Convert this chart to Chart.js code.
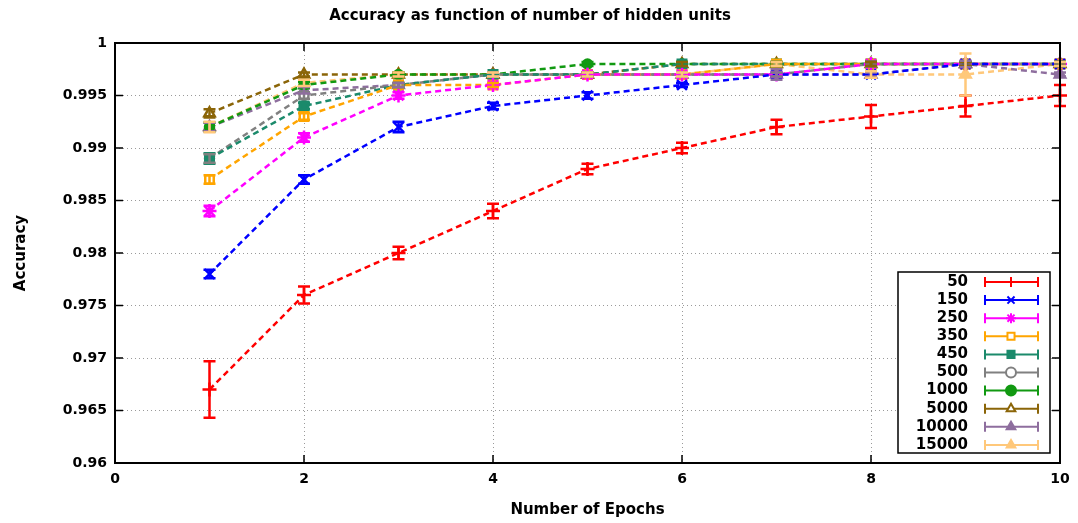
<!DOCTYPE html>
<html>
<head>
<meta charset="utf-8">
<script src="https://cdn.jsdelivr.net/npm/chart.js@4/dist/chart.umd.min.js"></script>
<style>
  html, body { margin: 0; padding: 0; background: #fff; }
  #wrap { width: 1078px; height: 523px; }
</style>
</head>
<body>
<div id="wrap"><canvas id="graphAcc"></canvas></div>
<script>
// donnees

const epochs = [1, 2, 3, 4, 5, 6, 7, 8, 9, 10];
const yTicks = [0.96, 0.965, 0.97, 0.975, 0.98, 0.985, 0.99, 0.995, 1];
const xTicks = [0, 2, 4, 6, 8, 10];

const labels = ['50', '150', '250', '350', '450', '500', '1000', '5000', '10000', '15000'];

const acc50    = [0.967, 0.976, 0.980, 0.984, 0.988, 0.990, 0.992, 0.993, 0.994, 0.995];
const acc150   = [0.978, 0.987, 0.992, 0.994, 0.995, 0.996, 0.997, 0.997, 0.998, 0.998];
const acc250   = [0.984, 0.991, 0.995, 0.996, 0.997, 0.997, 0.997, 0.998, 0.998, 0.998];
const acc350   = [0.987, 0.993, 0.996, 0.996, 0.997, 0.997, 0.998, 0.998, 0.998, 0.998];
const acc450   = [0.989, 0.994, 0.996, 0.997, 0.997, 0.998, 0.998, 0.998, 0.998, 0.998];
const acc500   = [0.989, 0.995, 0.996, 0.997, 0.997, 0.997, 0.997, 0.998, 0.998, 0.998];
const acc1000  = [0.992, 0.996, 0.997, 0.997, 0.998, 0.998, 0.998, 0.998, 0.998, 0.998];
const acc5000  = [0.9933, 0.997, 0.997, 0.997, 0.997, 0.998, 0.998, 0.998, 0.998, 0.998];
const acc10000 = [0.992, 0.9955, 0.996, 0.997, 0.997, 0.997, 0.997, 0.997, 0.998, 0.997];
const acc15000 = [0.992, 0.9962, 0.997, 0.997, 0.997, 0.997, 0.998, 0.997, 0.997, 0.998];

const err50    = [0.0027, 0.0008, 0.0006, 0.0007, 0.0005, 0.0005, 0.0007, 0.0011, 0.001, 0.001];
const err150   = [0.0004, 0.0004, 0.0005, 0.0003, 0.0003, 0.0002, 0.0002, 0.0002, 0.0002, 0.0002];
const err250   = [0.0005, 0.0004, 0.0003, 0.0002, 0.0002, 0.0002, 0.0002, 0.0002, 0.0002, 0.0002];
const err350   = [0.0004, 0.0003, 0.0002, 0.0002, 0.0002, 0.0002, 0.0002, 0.0002, 0.0002, 0.0002];
const err450   = [0.0005, 0.0003, 0.0002, 0.0002, 0.0002, 0.0002, 0.0002, 0.0002, 0.0002, 0.0002];
const err500   = [0.0004, 0.0003, 0.0002, 0.0002, 0.0002, 0.0002, 0.0002, 0.0002, 0.0002, 0.0002];
const err1000  = [0.0004, 0.0003, 0.0002, 0.0002, 0.0002, 0.0002, 0.0002, 0.0002, 0.0002, 0.0002];
const err5000  = [0.0004, 0.0002, 0.0002, 0.0002, 0.0002, 0.0002, 0.0002, 0.0002, 0.0002, 0.0002];
const err10000 = [0.0004, 0.0003, 0.0002, 0.0002, 0.0002, 0.0002, 0.0005, 0.0002, 0.0003, 0.0002];
const err15000 = [0.0005, 0.0003, 0.0002, 0.0002, 0.0002, 0.0002, 0.0002, 0.0003, 0.002, 0.0002];

const couleurs = ['#ff0000', '#0000ff', '#ff00ff', '#ffa500', '#1b8a6b', '#808080',
                  '#119911', '#8b6508', '#8e6e9e', '#ffc87a'];
const styles = ['cross', 'crossRot', 'star', 'rect', 'rect', 'circle', 'circle', 'triangle', 'triangle', 'triangle'];
const remplis = [true, true, true, false, true, false, true, false, true, true];

const valeurs = [acc50, acc150, acc250, acc350, acc450, acc500, acc1000, acc5000, acc10000, acc15000];
const erreurs = [err50, err150, err250, err350, err450, err500, err1000, err5000, err10000, err15000];

const police = '"DejaVu Sans", Verdana, sans-serif';

function tailleMarque(st) {
  if (st === 'circle') return 4.5;
  if (st === 'cross' || st === 'crossRot' || st === 'star') return 7;
  return 6;
}

const datasets = labels.map((lab, k) => ({
  label: lab,
  data: epochs.map((e, i) => ({ x: e, y: valeurs[k][i] })),
  errs: erreurs[k],
  borderColor: couleurs[k],
  backgroundColor: remplis[k] ? couleurs[k] : '#ffffff',
  pointBorderColor: couleurs[k],
  borderWidth: 2.5,
  borderDash: [6, 4],
  pointStyle: styles[k],
  pointRadius: tailleMarque(styles[k]),
  pointBorderWidth: 2.5,
  tension: 0,
  clip: false
}));

// barres d'erreur + ticks interieurs + legende

const pluginGnu = {
  id: 'gnu',
  afterDatasetsDraw(chart) {
    const c = chart.ctx;
    const xs = chart.scales.x, ys = chart.scales.y;
    chart.data.datasets.forEach((ds) => {
      c.save();
      c.strokeStyle = ds.borderColor;
      c.lineWidth = 2.5;
      ds.data.forEach((p, i) => {
        const e = ds.errs[i];
        const px = xs.getPixelForValue(p.x);
        const y1 = ys.getPixelForValue(p.y + e);
        const y2 = ys.getPixelForValue(p.y - e);
        c.beginPath();
        c.moveTo(px, y1); c.lineTo(px, y2);
        c.moveTo(px - 6, y1); c.lineTo(px + 6, y1);
        c.moveTo(px - 6, y2); c.lineTo(px + 6, y2);
        c.stroke();
      });
      c.restore();
    });
  },
  afterDraw(chart) {
    const c = chart.ctx;
    const a = chart.chartArea;
    const xs = chart.scales.x, ys = chart.scales.y;
    c.save();
    c.strokeStyle = '#000';
    c.lineWidth = 1.5;
    c.beginPath();
    xTicks.forEach(t => {
      const px = xs.getPixelForValue(t);
      c.moveTo(px, a.bottom); c.lineTo(px, a.bottom - 8);
      c.moveTo(px, a.top); c.lineTo(px, a.top + 8);
    });
    yTicks.forEach(t => {
      const py = ys.getPixelForValue(t);
      c.moveTo(a.left, py); c.lineTo(a.left + 8, py);
      c.moveTo(a.right, py); c.lineTo(a.right - 8, py);
    });
    c.stroke();
    c.lineWidth = 2;
    c.strokeRect(a.left, a.top, a.right - a.left, a.bottom - a.top);

    // legende
    const lx = 898, ly = 272, lw = 152, lh = 181;
    c.fillStyle = '#fff';
    c.fillRect(lx, ly, lw, lh);
    c.lineWidth = 1.5;
    c.strokeStyle = '#000';
    c.strokeRect(lx, ly, lw, lh);
    c.font = 'bold 15px ' + police;
    c.textAlign = 'right';
    c.textBaseline = 'middle';
    chart.data.datasets.forEach((ds, k) => {
      const yy = ly + 10 + k * 18.1;
      c.fillStyle = '#000';
      c.fillText(ds.label, 968, yy);
      c.strokeStyle = ds.borderColor;
      c.lineWidth = 2;
      c.beginPath();
      c.moveTo(985, yy); c.lineTo(1038, yy);
      c.moveTo(985, yy - 5); c.lineTo(985, yy + 5);
      c.moveTo(1038, yy - 5); c.lineTo(1038, yy + 5);
      c.stroke();
      c.fillStyle = ds.backgroundColor;
      c.strokeStyle = ds.borderColor;
      Chart.helpers.drawPoint(c, {
        pointStyle: ds.pointStyle, radius: 5, borderWidth: 2
      }, 1011, yy);
    });
    c.restore();
  }
};

const ctx = document.getElementById('graphAcc');

new Chart(ctx, {
  type: 'line',
  data: { datasets },
  options: {
    responsive: true,
    maintainAspectRatio: false,
    animation: false,
    layout: { padding: { right: 18, left: 0, top: 0, bottom: 0 } },
    plugins: {
      legend: { display: false },
      tooltip: { enabled: false },
      title: {
        display: true,
        text: 'Accuracy as function of number of hidden units',
        color: '#000',
        font: { family: police, size: 15, weight: 'bold' },
        padding: { top: 7, bottom: 18 }
      }
    },
    scales: {
      x: {
        type: 'linear',
        min: 0, max: 10,
        afterFit: (s) => { s.height = 60; },
        afterBuildTicks: (s) => { s.ticks = xTicks.map(v => ({ value: v })); },
        ticks: {
          color: '#000',
          font: { family: police, size: 14, weight: 'bold' },
          padding: 8,
          maxRotation: 0
        },
        grid: {
          color: '#9a9a9a',
          lineWidth: 1,
          drawTicks: false
        },
        border: { display: false, dash: [1, 3] },
        title: {
          display: true,
          text: 'Number of Epochs',
          color: '#000',
          font: { family: police, size: 15, weight: 'bold' },
          padding: { top: 6 }
        }
      },
      y: {
        min: 0.96, max: 1,
        afterFit: (s) => { s.width = 115; },
        afterBuildTicks: (s) => { s.ticks = yTicks.map(v => ({ value: v })); },
        ticks: {
          color: '#000',
          font: { family: police, size: 14, weight: 'bold' },
          padding: 8,
          callback: (v) => String(+v.toFixed(3))
        },
        grid: {
          color: '#9a9a9a',
          lineWidth: 1,
          drawTicks: false
        },
        border: { display: false, dash: [1, 3] },
        title: {
          display: true,
          text: 'Accuracy',
          color: '#000',
          font: { family: police, size: 15, weight: 'bold' },
          padding: { top: 12, bottom: 0 }
        }
      }
    }
  },
  plugins: [pluginGnu]
});
</script>
</body>
</html>
